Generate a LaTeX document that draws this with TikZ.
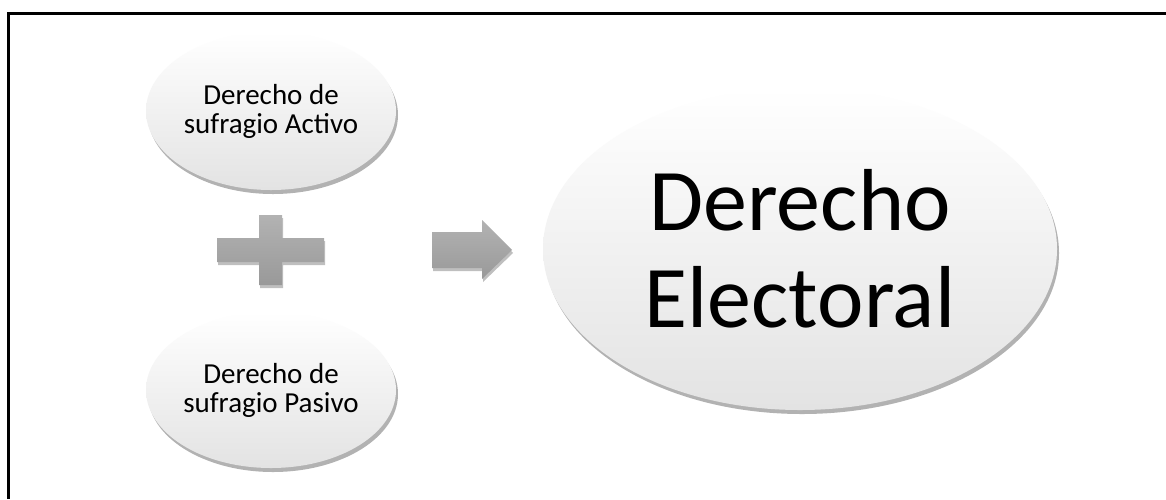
\documentclass[tikz,border=0pt]{standalone}
\usepackage{fontspec}
\setmainfont{Carlito}
\usetikzlibrary{shapes.geometric,shadows}
\begin{document}
\begin{tikzpicture}[x=1pt,y=-1pt,
  bubble/.style={ellipse, inner sep=0pt, align=center, text=black,
    top color=white, bottom color=black!11,
    drop shadow={shadow xshift=2pt, shadow yshift=-4pt, opacity=0.3, fill=black}},
  smalltext/.style={font=\fontsize{29}{29}\selectfont},
  bigtext/.style={font=\fontsize{88}{97}\selectfont},
  graysym/.style={top color=black!30, bottom color=black!40,
    drop shadow={shadow xshift=1pt, shadow yshift=-3pt, opacity=0.25, fill=black}},
  frameline/.style={line width=3pt, draw=black}]
\useasboundingbox (0,0) rectangle (1166,499);
\fill[white] (0,0) rectangle (1166,499);
\draw[frameline] (1166,13) -- (8.5,13) -- (8.5,499);

\node[bubble, smalltext, minimum width=250pt, minimum height=158pt] (act) at (271,111) {Derecho de\\sufragio Activo};
\node[bubble, smalltext, minimum width=250pt, minimum height=156pt] (pas) at (271,390) {Derecho de\\sufragio Pasivo};
\node[bubble, bigtext, minimum width=514pt, minimum height=322pt] (elec) at (800,249) {Derecho\\Electoral};

\path[graysym] (217,238) -- (259,238) -- (259,215) -- (282,215) -- (282,238) -- (324,238)
  -- (324,262) -- (282,262) -- (282,285) -- (259,285) -- (259,262) -- (217,262) -- cycle;
\path[graysym] (432,232) -- (482,232) -- (482,220) -- (512,250) -- (482,279) -- (482,268)
  -- (432,268) -- cycle;
\end{tikzpicture}
\end{document}
